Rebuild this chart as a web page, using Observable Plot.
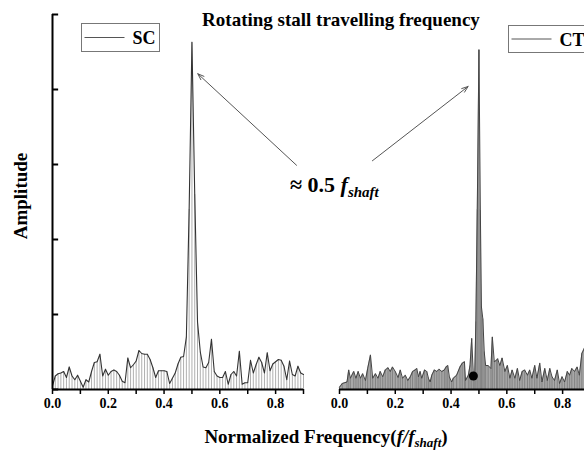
<!DOCTYPE html>
<html><head><meta charset="utf-8">
<script src="https://cdn.jsdelivr.net/npm/d3@7"></script>
<script src="https://cdn.jsdelivr.net/npm/@observablehq/plot@0.6"></script>
<style>
html,body{margin:0;padding:0;background:#fff;overflow:hidden;width:584px;height:452px}
#chart{position:relative;width:584px;height:452px;overflow:hidden}
#chart svg{max-width:none !important;width:600px !important;height:452px !important}
#chart svg text{font-weight:bold}
</style></head><body><div id="chart"></div>
<script>
// ---------- data ----------
const panels = ["SC", "CT"];
const scFreq = d3.range(91).map(i => i / 100);
const scAmp = [0.05,0.18,0.21,0.22,0.24,0.16,0.30,0.18,0.13,0.19,
  0.11,0.03,0.13,0.10,0.24,0.36,0.37,0.47,0.18,0.27,
  0.19,0.24,0.26,0.24,0.19,0.11,0.09,0.42,0.29,0.33,
  0.38,0.52,0.48,0.47,0.47,0.40,0.29,0.16,0.25,0.25,
  0.25,0.24,0.08,0.15,0.22,0.34,0.43,0.44,0.70,2.40,
  4.63,2.60,0.90,0.50,0.30,0.29,0.36,0.67,0.24,0.18,
  0.16,0.16,0.24,0.07,0.20,0.24,0.18,0.51,0.07,0.09,
  0.09,0.39,0.22,0.33,0.43,0.36,0.22,0.49,0.25,0.34,
  0.37,0.40,0.39,0.31,0.13,0.38,0.20,0.18,0.31,0.22,0.20];
const ctFreq = [0.000,0.010,0.027,0.033,0.039,0.051,0.059,0.067,0.075,0.083,0.093,0.101,0.111,0.119,0.129,0.138,0.146,0.155,0.164,0.174,
  0.182,0.190,0.200,0.210,0.218,0.226,0.236,0.245,0.254,0.262,0.271,0.277,0.283,0.289,0.295,0.305,0.313,0.319,0.325,0.331,
  0.340,0.349,0.357,0.367,0.376,0.382,0.388,0.394,0.402,0.408,0.420,0.432,0.440,0.448,0.452,0.462,0.468,0.474,0.480,0.485,
  0.489,0.494,0.500,0.505,0.509,0.514,0.519,0.524,0.533,0.543,0.548,0.555,0.563,0.567,0.575,0.583,0.593,0.602,0.611,0.619,
  0.629,0.638,0.646,0.655,0.664,0.674,0.682,0.690,0.700,0.708,0.718,0.726,0.736,0.745,0.754,0.762,0.771,0.781,0.789,0.798,
  0.807,0.817,0.825,0.833,0.843,0.852,0.860,0.869,0.878,0.890,0.900];
const ctAmp = [0.03,0.08,0.10,0.26,0.15,0.24,0.15,0.24,0.15,0.21,0.12,0.28,0.46,0.15,0.21,0.15,0.24,0.17,0.26,0.29,
  0.24,0.30,0.24,0.16,0.26,0.15,0.19,0.12,0.17,0.24,0.26,0.28,0.17,0.24,0.15,0.26,0.24,0.15,0.10,0.19,
  0.26,0.24,0.27,0.24,0.26,0.30,0.32,0.17,0.10,0.15,0.19,0.30,0.35,0.37,0.12,0.19,0.32,0.68,0.19,0.20,
  0.90,2.40,4.53,2.40,1.10,0.94,0.50,0.32,0.32,0.28,0.70,0.37,0.39,0.41,0.32,0.42,0.24,0.32,0.15,0.26,
  0.15,0.28,0.12,0.24,0.26,0.19,0.26,0.15,0.32,0.15,0.35,0.10,0.28,0.12,0.28,0.17,0.12,0.26,0.08,0.17,
  0.10,0.24,0.19,0.28,0.24,0.30,0.19,0.48,0.55,0.30,0.25];
const markerPanel = ["CT"], markerFreq = [0.48], markerAmp = [0.18];
const xTicks = [0, 0.2, 0.4, 0.6, 0.8];
const xMinorTicks = [0.1, 0.3, 0.5, 0.7, 0.9];
const yTicks = [0, 1, 2, 3, 4, 5];
const arrowPanel = ["SC", "CT"];
const arrowFromF = [0.875, 0.118], arrowFromA = [2.99, 3.05];
const arrowToF = [0.521, 0.461], arrowToA = [4.21, 4.04];
const titleText = "Rotating stall travelling frequency";
const yLabel = "Amplitude";
const legendLabels = ["SC", "CT"];

// ---------- tables ----------
const sc = scFreq.map((f, i) => ({panel: "SC", f, a: scAmp[i]}));
const ct = ctFreq.map((f, i) => ({panel: "CT", f, a: ctAmp[i]}));
const markers = markerFreq.map((f, i) => ({panel: markerPanel[i], f, a: markerAmp[i]}));
const arrows = arrowPanel.map((p, i) => ({panel: p, x1: arrowFromF[i], y1: arrowFromA[i], x2: arrowToF[i], y2: arrowToA[i]}));
const yTickRows = yTicks.map(v => ({panel: "SC", v}));

const plot = Plot.plot({
  width: 600, height: 452,
  marginLeft: 52, marginRight: 9, marginTop: 14, marginBottom: 63,
  style: {fontFamily: "'Liberation Serif','Times New Roman',serif", background: "white", color: "black"},
  fx: {domain: panels, axis: null, paddingInner: 0.1252, paddingOuter: 0, label: null},
  x: {domain: [0, 0.9], axis: null},
  y: {domain: [0, 5], axis: null},
  marks: [
    Plot.ruleX(sc, {x: "f", y1: 0, y2: "a", fx: "panel", stroke: "#9a9a9a", strokeWidth: 0.8}),
    Plot.line(sc, {x: "f", y: "a", fx: "panel", stroke: "#333", strokeWidth: 1.1}),
    Plot.areaY(ct, {x: "f", y: "a", fx: "panel", fill: "#a8a8a8"}),
    Plot.ruleX(ct, {x: "f", y1: 0, y2: "a", fx: "panel", stroke: "#7a7a7a", strokeWidth: 0.8}),
    Plot.line(ct, {x: "f", y: "a", fx: "panel", stroke: "#444", strokeWidth: 1}),
    Plot.dot(markers, {x: "f", y: "a", fx: "panel", r: 4.5, fill: "black", stroke: "none"}),
    Plot.arrow(arrows, {x1: "x1", y1: "y1", x2: "x2", y2: "y2", fx: "panel", stroke: "#555", strokeWidth: 1, headLength: 10, headAngle: 40}),
    Plot.ruleY([0], {stroke: "black", strokeWidth: 2}),
    Plot.ruleX(yTickRows.slice(0, 1), {x: 0, y1: 0, y2: 5, fx: "panel", stroke: "black", strokeWidth: 2}),
    Plot.ruleY(yTickRows, {y: "v", x1: 0, x2: 0.022, fx: "panel", stroke: "black", strokeWidth: 2}),
    Plot.axisX({ticks: xTicks, tickFormat: d3.format(".1f"), tickSize: 5, tickPadding: 4, fontSize: 14, label: null, strokeWidth: 1.5}),
    Plot.axisX({ticks: xMinorTicks, tickFormat: () => "", tickSize: 5, label: null, strokeWidth: 1.5})
  ]
});
plot.style.maxWidth = "none";
document.getElementById("chart").appendChild(plot);

// ---------- text overlays ----------
const svg = d3.select(plot);
const ff = "'Liberation Serif','Times New Roman',serif";
svg.append("text").attr("x", 341).attr("y", 26).attr("text-anchor", "middle")
  .attr("font-family", ff).attr("font-size", 19).attr("font-weight", "bold").attr("fill", "black").text(titleText);

const xl = svg.append("text").attr("x", 326).attr("y", 443).attr("text-anchor", "middle")
  .attr("font-family", ff).attr("font-size", 19).attr("font-weight", "bold").attr("fill", "black");
xl.append("tspan").text("Normalized Frequency(");
xl.append("tspan").attr("font-style", "italic").text("f/f");
xl.append("tspan").attr("font-style", "italic").attr("font-size", 13).attr("dy", 4).text("shaft");
xl.append("tspan").attr("dy", -4).text(")");

svg.append("text").attr("transform", "translate(27,196) rotate(-90)").attr("text-anchor", "middle")
  .attr("font-family", ff).attr("font-size", 19).attr("font-weight", "bold").attr("fill", "black").text(yLabel);

const an = svg.append("text").attr("x", 290).attr("y", 192).attr("text-anchor", "start")
  .attr("font-family", ff).attr("font-size", 22).attr("font-weight", "bold").attr("fill", "black");
an.append("tspan").text("≈ 0.5 ");
an.append("tspan").attr("font-style", "italic").text("f");
an.append("tspan").attr("font-style", "italic").attr("font-size", 15).attr("dy", 5).text("shaft");

// legends
const legendBoxes = [{x: 81.5, y: 23.5, w: 78, h: 28}, {x: 508.5, y: 25.5, w: 100, h: 27}];
legendLabels.forEach((lab, i) => {
  const b = legendBoxes[i];
  svg.append("rect").attr("x", b.x).attr("y", b.y).attr("width", b.w).attr("height", b.h)
    .attr("fill", "white").attr("stroke", "#777").attr("stroke-width", 1);
  svg.append("line").attr("x1", b.x + 3).attr("x2", b.x + 43).attr("y1", b.y + b.h / 2).attr("y2", b.y + b.h / 2)
    .attr("stroke", "#555").attr("stroke-width", 1);
  svg.append("text").attr("x", b.x + 51).attr("y", b.y + b.h / 2 + 6.5).attr("text-anchor", "start")
    .attr("font-family", ff).attr("font-size", 18).attr("font-weight", "bold").attr("fill", "black").text(lab);
});
</script></body></html>
